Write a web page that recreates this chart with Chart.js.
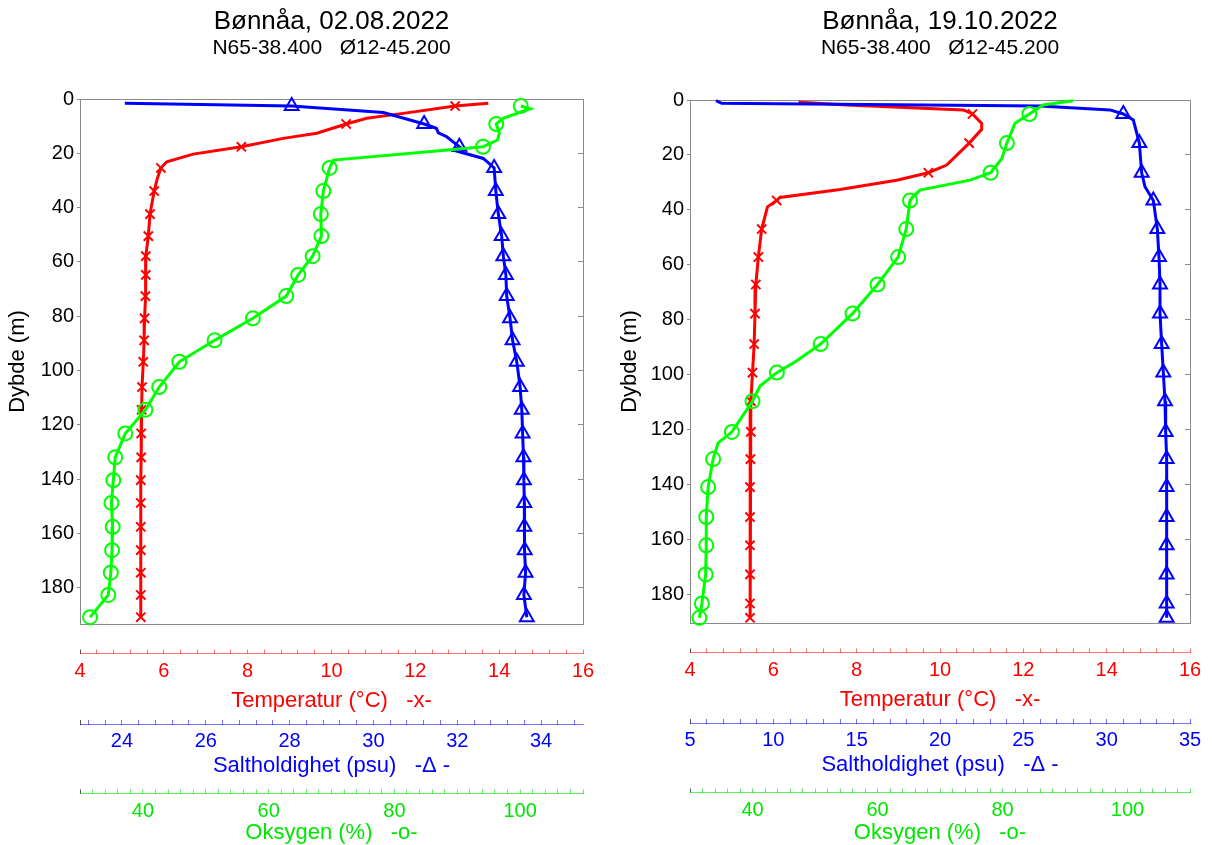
<!DOCTYPE html>
<html>
<head>
<meta charset="utf-8">
<script src="https://cdn.jsdelivr.net/npm/chart.js@4.4.1/dist/chart.umd.min.js"></script>
<style>
  body { margin: 0; background: #fff; }
  #wrap { display: flex; width: 1212px; height: 845px; }
  canvas { display: block; }
</style>
</head>
<body>
<div id="wrap">
  <canvas id="chartA" width="606" height="845"></canvas>
  <canvas id="chartB" width="606" height="845"></canvas>
</div>
<script>
// ===============================
// Data
// ===============================
const titleA = "Bønnåa, 02.08.2022";
const titleB = "Bønnåa, 19.10.2022";
const station = "N65-38.400   Ø12-45.200";

// Panel A - depths where markers are drawn
const markDepthA = [2.6, 9.2, 17.6, 25.4, 33.9, 42.4, 50.5, 57.9, 64.8, 72.6, 80.8, 88.9, 96.8, 106.1,
                    114.5, 123.2, 132.0, 140.4, 148.8, 157.6, 166.2, 174.5, 182.7, 190.9];

const tempDepthA = [1.6, 2.6, 5.3, 7.1, 9.2, 12.6, 14.5, 17.6, 20.3, 23.1, 25.4, 29.5, 33.9, 42.4, 50.5, 57.9,
                    64.8, 72.6, 80.8, 88.9, 96.8, 106.1, 114.5, 123.2, 132.0, 140.4, 148.8, 157.6, 166.2, 174.5, 182.7, 190.9];
const tempA = [13.74, 12.95, 11.71, 10.84, 10.35, 9.65, 8.85, 7.85, 6.7, 6.07, 5.93, 5.84, 5.77, 5.67, 5.63, 5.57,
               5.57, 5.56, 5.54, 5.53, 5.51, 5.48, 5.47, 5.46, 5.46, 5.45, 5.45, 5.45, 5.45, 5.45, 5.45, 5.45];

const saltDepthA = [1.6, 2.6, 5.0, 9.2, 10.8, 12.5, 13.9, 17.6, 18.8, 21.9, 25.4, 33.9, 42.4, 50.5, 57.9, 64.8,
                    72.6, 80.8, 88.9, 96.8, 106.1, 114.5, 123.2, 132.0, 140.4, 148.8, 157.6, 166.2, 174.5, 182.7, 190.9];
const saltA = [24.07, 28.05, 30.24, 31.21, 31.5, 31.55, 31.75, 32.05, 31.9, 32.62, 32.88, 32.92, 32.98, 33.06, 33.1, 33.16,
               33.18, 33.26, 33.32, 33.42, 33.5, 33.54, 33.56, 33.58, 33.59, 33.6, 33.6, 33.61, 33.63, 33.59, 33.66];

const oxyDepthA = [2.6, 3.6, 7.1, 9.2, 12.6, 15.1, 17.6, 18.6, 22.5, 25.4, 33.9, 42.4, 50.5, 57.9, 64.8, 72.6,
                   80.8, 88.9, 96.8, 106.1, 114.5, 123.2, 132.0, 140.4, 148.8, 157.6, 166.2, 174.5, 182.7, 190.9];
const oxyA = [100.1, 101.6, 97.3, 96.2, 96.7, 96.4, 94.1, 89.4, 70.3, 69.7, 68.7, 68.3, 68.4, 67.0, 64.7, 62.8,
              57.5, 51.4, 45.8, 42.6, 40.4, 37.2, 35.6, 35.3, 35.0, 35.2, 35.1, 34.9, 34.5, 31.6];

// Panel B
const markDepthB = [5.1, 15.7, 26.5, 36.6, 47.0, 57.2, 67.2, 77.8, 88.9, 99.3, 109.7, 120.9, 130.8, 141.0,
                    151.9, 162.2, 172.8, 183.4, 188.6];

const tempDepthB = [0.3, 0.8, 1.8, 3.6, 5.1, 8.5, 10.7, 15.7, 23.7, 26.5, 29.2, 32.6, 35.5, 36.6, 38.9, 47.0,
                    57.2, 67.2, 77.8, 88.9, 99.3, 109.7, 120.9, 130.8, 141.0, 151.9, 162.2, 172.8, 183.4, 188.6];
const tempB = [6.64, 6.64, 7.76, 10.56, 10.78, 11.0, 11.0, 10.7, 10.16, 9.72, 8.96, 7.6, 6.16, 6.08, 5.86, 5.72,
               5.64, 5.58, 5.56, 5.54, 5.50, 5.46, 5.46, 5.45, 5.44, 5.44, 5.44, 5.44, 5.44, 5.44];

const saltDepthB = [0.25, 1.2, 2.2, 3.6, 5.1, 7.3, 15.7, 26.5, 31.6, 36.6, 47.0, 57.2, 67.2, 77.8, 88.9, 99.3,
                    109.7, 120.9, 130.8, 141.0, 151.9, 162.2, 172.8, 183.4, 188.6];
const saltB = [6.56, 6.9, 26.0, 30.2, 31.0, 31.6, 31.96, 32.1, 32.3, 32.8, 33.04, 33.14, 33.2, 33.2, 33.3, 33.4,
               33.5, 33.54, 33.6, 33.6, 33.6, 33.6, 33.6, 33.6, 33.6];

const oxyDepthB = [0.25, 1.8, 5.1, 8.5, 15.7, 21.3, 26.5, 29.2, 32.8, 35.2, 36.6, 47.0, 57.2, 67.2, 77.8, 88.9,
                   95.4, 99.3, 104.2, 109.7, 120.9, 124.9, 130.8, 141.0, 151.9, 162.2, 172.8, 183.4, 188.6];
const oxyB = [91.3, 86.5, 84.3, 82.0, 80.7, 79.9, 78.1, 74.8, 66.8, 65.7, 65.2, 64.6, 63.3, 60.0, 56.0, 50.9,
              46.8, 43.9, 41.2, 40.0, 36.7, 34.5, 33.7, 32.9, 32.6, 32.6, 32.5, 31.9, 31.5];

// Tick labels
const depthTicks = [0, 20, 40, 60, 80, 100, 120, 140, 160, 180];
const tempLabels = [4, 6, 8, 10, 12, 14, 16];
const saltLabelsA = [24, 26, 28, 30, 32, 34];
const saltLabelsB = [5, 10, 15, 20, 25, 30, 35];
const oxyLabels = [40, 60, 80, 100];

// ===============================
// Style constants
// ===============================
const FONT = "'Liberation Sans', Arial, sans-serif";
const FRAME = '#8a8a8a';
const RED = '#ff0000', BLUE = '#0000ff', GREEN = '#00ff00';

// small tick marks along the bottom axes (first one is the axis origin)
function minorTicks(min, max, step, anchor) {
  const out = [min];
  let v = anchor - Math.floor((anchor - min) / step) * step;
  if (Math.abs(v - min) < 1e-6) v += step;
  for (; v <= max + 1e-6; v += step) out.push(Math.round(v * 1000) / 1000);
  return out;
}

function bottomAxis(o) {
  return {
    type: 'linear', position: 'bottom', weight: o.weight, min: o.min, max: o.max,
    afterBuildTicks: s => { s.ticks = o.ticks.map(v => ({ value: v })); },
    afterFit: s => { s.height = o.height; },
    border: { display: true, color: o.line, width: 1 },
    grid: {
      drawOnChartArea: false, tickLength: -4, lineWidth: 1,
      color: ctx => ctx.index === 0 ? '#555' : o.line
    },
    ticks: {
      autoSkip: false, maxRotation: 0, padding: 9.5, color: o.color,
      font: { family: FONT, size: 20 },
      callback: v => o.labels.some(l => Math.abs(l - v) < 1e-6) ? String(Math.round(v)) : ''
    },
    title: {
      display: true, text: o.title, color: o.color,
      font: { family: FONT, size: 22 }, padding: { top: 0, bottom: o.titlePad }
    }
  };
}

function profile(depths, values, marks, color, style, radius, axis, order) {
  return {
    data: depths.map((d, i) => ({ x: values[i], y: d })),
    xAxisID: axis, yAxisID: 'y',
    showLine: true, borderColor: color, borderWidth: 3, tension: 0,
    pointStyle: style,
    pointRadius: depths.map(d => marks.includes(d) ? radius : 0),
    pointHoverRadius: 0,
    pointBorderColor: color, pointBackgroundColor: 'rgba(0,0,0,0)', pointBorderWidth: 2,
    clip: false, order: order
  };
}

// ===============================
// Build one panel
// ===============================
function makePanel(id, p) {
  const ctx = document.getElementById(id).getContext('2d');
  return new Chart(ctx, {
    type: 'scatter',
    data: {
      datasets: [
        profile(p.tempDepth, p.temp, p.marks, RED, 'crossRot', 6.5, 'xT', 2),
        profile(p.saltDepth, p.salt, p.marks, BLUE, 'triangle', 8, 'xS', 1),
        profile(p.oxyDepth, p.oxy, p.marks, GREEN, 'circle', 7, 'xO', 0)
      ]
    },
    options: {
      responsive: false,
      animation: false,
      devicePixelRatio: 1,
      layout: { padding: 0 },
      events: [],
      plugins: {
        legend: { display: false },
        tooltip: { enabled: false },
        title: {
          display: true, text: p.title, fullSize: false, color: '#000',
          font: { family: FONT, size: 26, weight: 'normal' }, padding: { top: 6, bottom: -2 }
        },
        subtitle: {
          display: true, text: station, fullSize: false, color: '#000',
          font: { family: FONT, size: 21, weight: 'normal' }, padding: 0
        }
      },
      scales: {
        y: {
          type: 'linear', position: 'left', reverse: true, min: 0, max: p.yMax,
          afterBuildTicks: s => { s.ticks = depthTicks.map(v => ({ value: v })); },
          afterFit: s => { s.width = p.yW; },
          border: { display: true, color: FRAME },
          grid: { drawOnChartArea: false, tickLength: 3, color: FRAME },
          ticks: { padding: 3, color: '#000', font: { family: FONT, size: 20 } },
          title: {
            display: true, text: 'Dybde (m)', color: '#000',
            font: { family: FONT, size: 22 }, padding: { top: p.yTitlePad, bottom: 0 }
          }
        },
        yR: {
          type: 'linear', position: 'right', reverse: true, min: 0, max: p.yMax,
          afterBuildTicks: s => { s.ticks = depthTicks.map(v => ({ value: v })); },
          afterFit: s => { s.width = p.yRW; },
          border: { display: true, color: FRAME },
          grid: { drawOnChartArea: false, tickLength: -5, color: FRAME },
          ticks: { display: false }
        },
        xt: {
          type: 'linear', position: 'top', weight: 0, min: 0, max: 1,
          afterFit: s => { s.height = p.topH; },
          border: { display: true, color: FRAME },
          grid: { drawOnChartArea: false, drawTicks: false },
          ticks: { display: false }
        },
        xf: {
          type: 'linear', position: 'bottom', weight: 0, min: 0, max: 1,
          afterFit: s => { s.height = 29.5; },
          border: { display: true, color: FRAME },
          grid: { drawOnChartArea: false, drawTicks: false },
          ticks: { display: false }
        },
        xT: bottomAxis({
          weight: 1, min: 4, max: 16, ticks: minorTicks(4, 16, 0.4, 4), labels: tempLabels,
          line: 'rgba(255,0,0,0.55)', color: RED, title: 'Temperatur (°C)   -x-',
          height: 70.5, titlePad: 9.8
        }),
        xS: bottomAxis({
          weight: 2, min: p.saltMin, max: 35, ticks: p.saltTicks, labels: p.saltLabels,
          line: 'rgba(0,0,255,0.55)', color: BLUE, title: 'Saltholdighet (psu)   -Δ -',
          height: 69.5, titlePad: 14.3
        }),
        xO: bottomAxis({
          weight: 3, min: 30, max: 110, ticks: minorTicks(30, 110, 2, 30), labels: oxyLabels,
          line: 'rgba(0,220,0,0.6)', color: '#00e600', title: 'Oksygen (%)   -o-',
          height: p.oxyH, titlePad: -1.5
        })
      }
    }
  });
}

makePanel('chartA', {
  title: titleA, marks: markDepthA,
  tempDepth: tempDepthA, temp: tempA,
  saltDepth: saltDepthA, salt: saltA,
  oxyDepth: oxyDepthA, oxy: oxyA,
  yMax: 193.4, yW: 80, yRW: 23, topH: 38.6, oxyH: 51.5, yTitlePad: 4.8,
  saltMin: 23, saltTicks: minorTicks(23, 35, 0.4, 24), saltLabels: saltLabelsA
});

makePanel('chartB', {
  title: titleB, marks: markDepthB,
  tempDepth: tempDepthB, temp: tempB,
  saltDepth: saltDepthB, salt: saltB,
  oxyDepth: oxyDepthB, oxy: oxyB,
  yMax: 190.5, yW: 84, yRW: 22, topH: 39.6, oxyH: 52.5, yTitlePad: 10.8,
  saltMin: 5, saltTicks: minorTicks(5, 35, 1, 5), saltLabels: saltLabelsB
});
</script>
</body>
</html>
